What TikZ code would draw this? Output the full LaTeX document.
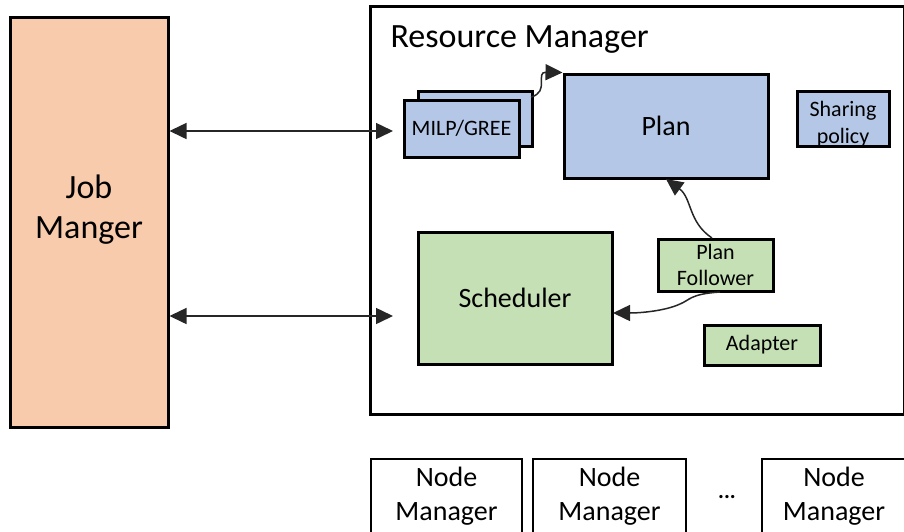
\documentclass[tikz,border=0pt]{standalone}
\usepackage{fontspec}
\setmainfont{Carlito}
\usetikzlibrary{arrows.meta}
\definecolor{peach}{HTML}{F8CBAD}
\definecolor{planblue}{HTML}{B4C7E7}
\definecolor{schedgreen}{HTML}{C5E0B4}
\tikzset{
  box/.style={draw=black, line width=3pt, inner sep=0pt, align=center},
  conn/.style={line width=1.5pt, draw=black!85, -{Triangle[length=17pt,width=16pt]}},
  biconn/.style={line width=1.5pt, draw=black!85, {Triangle[length=17pt,width=16pt]}-{Triangle[length=17pt,width=16pt]}},
}
\begin{document}
\begin{tikzpicture}[x=1pt,y=-1pt]
\useasboundingbox (0,0) rectangle (904,531);

% Job manager
\node[box, fill=peach, minimum width=158pt, minimum height=410pt] (jm) at (89,222) {};
\node[font=\fontsize{34}{40}\selectfont, align=center] (jmt) at (89,210) {Job\\Manger};

% Resource manager frame
\draw[line width=3pt] (370,6) rectangle (904,414);
\node[anchor=west, font=\fontsize{34}{38}\selectfont] (rmt) at (387,40) {Resource Manager};

% MILP/GREE stacked boxes
\node[box, fill=planblue, minimum width=114pt, minimum height=55pt] (milpb) at (475,118.5) {};
\node[box, fill=planblue, minimum width=115pt, minimum height=57pt, font=\fontsize{22}{26}\selectfont] (milp) at (461.5,128.5) {MILP/GREE};

% Plan
\node[box, fill=planblue, minimum width=204pt, minimum height=104pt, font=\fontsize{28}{32}\selectfont] (plan) at (666,126) {Plan};

% Sharing policy
\node[box, fill=planblue, minimum width=92pt, minimum height=55pt] (share) at (843,118.5) {};
\node[font=\fontsize{22}{27}\selectfont, align=center] (sharet) at (843,124) {Sharing\\policy};

% Scheduler
\node[box, fill=schedgreen, minimum width=194pt, minimum height=132pt, font=\fontsize{28}{32}\selectfont] (sched) at (515,298) {Scheduler};

% Plan follower
\node[box, fill=schedgreen, minimum width=115pt, minimum height=52pt, font=\fontsize{22}{26}\selectfont] (pf) at (715.5,265) {Plan\\Follower};

% Adapter
\node[box, fill=schedgreen, minimum width=116pt, minimum height=40pt, font=\fontsize{22}{26}\selectfont] (adapt) at (762,345) {Adapter};

% Node managers
\tikzset{nm/.style={box, line width=2.4pt, minimum height=74pt, font=\fontsize{28}{34}\selectfont}}
\node[nm, minimum width=151pt] (nm1) at (446.5,496) {Node\\Manager};
\node[nm, minimum width=153pt] (nm2) at (609.5,496) {Node\\Manager};
\node[font=\fontsize{22}{26}\selectfont] (dots) at (727,497) {\textbf{...}};
\node[nm, minimum width=144pt] (nm3) at (834,496) {Node\\Manager};

% Connectors
\coordinate (a1) at (393,131);
\coordinate (a2) at (393,316);
\draw[biconn] (jm.east |- a1) -- (a1);
\draw[biconn] (jm.east |- a2) -- (a2);

\coordinate (mtop) at (531,97);
\draw[conn] (mtop) .. controls (550,92) and (535,72) .. (plan.north west);
\coordinate (pfs) at (712,238);
\draw[conn] (pfs) .. controls (688,222) and (692,198) .. (666,179);
\coordinate (pfb) at (720,292);
\draw[conn] (pfb) .. controls (690,294) and (690,300) .. (680,304) .. controls (665,311) and (640,313) .. (613,313);
\end{tikzpicture}
\end{document}
